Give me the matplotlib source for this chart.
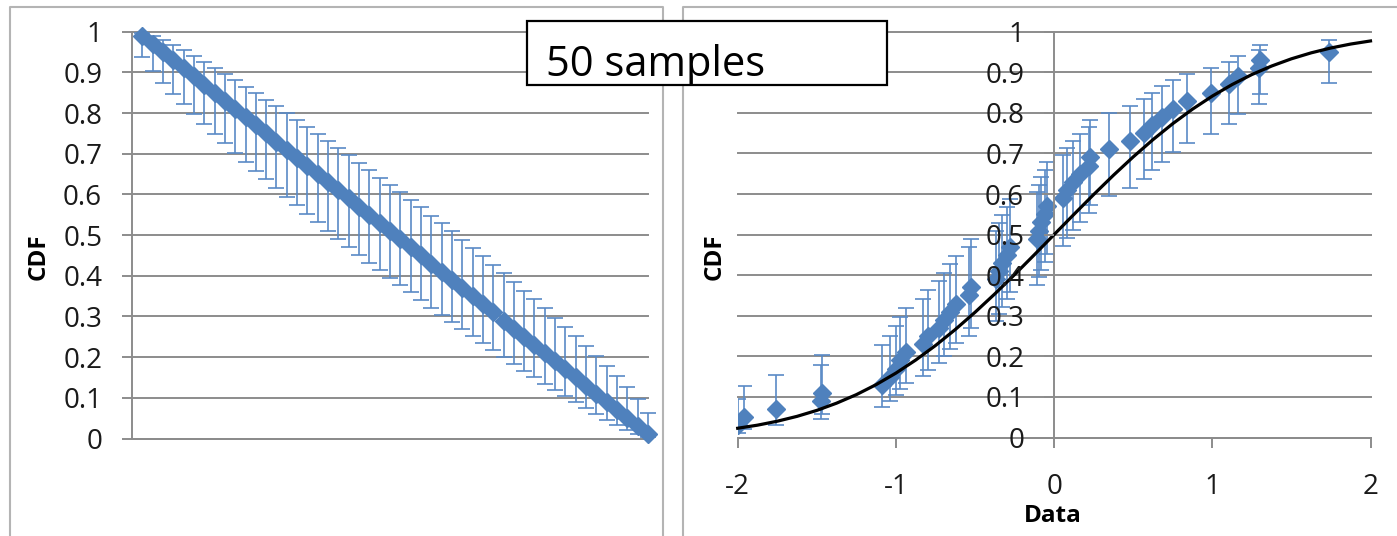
import matplotlib
matplotlib.use("Agg")
import matplotlib.pyplot as plt
from matplotlib.patches import Rectangle
from matplotlib.lines import Line2D

# ---------------- data ----------------
# Left panel: rank of each of the 50 samples and its CDF estimate with error-bar bounds
rank = list(range(1, 51))
cdf_desc = [0.99, 0.97, 0.95, 0.93, 0.91, 0.89, 0.87, 0.85, 0.83, 0.81,
            0.79, 0.77, 0.75, 0.73, 0.71, 0.69, 0.67, 0.65, 0.63, 0.61,
            0.59, 0.57, 0.55, 0.53, 0.51, 0.49, 0.47, 0.45, 0.43, 0.41,
            0.39, 0.37, 0.35, 0.33, 0.31, 0.29, 0.27, 0.25, 0.23, 0.21,
            0.19, 0.17, 0.15, 0.13, 0.11, 0.09, 0.07, 0.05, 0.03, 0.01]
lower_desc = [0.937, 0.904, 0.874, 0.847, 0.822, 0.797, 0.773, 0.749, 0.726, 0.703,
              0.680, 0.658, 0.637, 0.615, 0.594, 0.573, 0.552, 0.531, 0.511, 0.491,
              0.471, 0.452, 0.432, 0.413, 0.395, 0.377, 0.359, 0.341, 0.322, 0.304,
              0.287, 0.269, 0.251, 0.234, 0.217, 0.200, 0.183, 0.167, 0.151, 0.135,
              0.119, 0.104, 0.089, 0.074, 0.059, 0.045, 0.032, 0.020, 0.010, 0.003]
upper_desc = [0.997, 0.990, 0.980, 0.968, 0.955, 0.941, 0.926, 0.911, 0.896, 0.881,
              0.865, 0.849, 0.833, 0.817, 0.800, 0.783, 0.766, 0.749, 0.731, 0.713,
              0.696, 0.678, 0.659, 0.641, 0.623, 0.605, 0.587, 0.568, 0.548, 0.529,
              0.509, 0.489, 0.469, 0.448, 0.427, 0.406, 0.385, 0.363, 0.342, 0.320,
              0.297, 0.274, 0.251, 0.227, 0.203, 0.178, 0.153, 0.126, 0.096, 0.063]

# Right panel: sorted sample values (ascending) plotted against the CDF estimates
data_sorted = [-2.30, -2.00, -1.96, -1.755, -1.475, -1.465, -1.087, -1.04, -1.00, -0.975,
               -0.935, -0.83, -0.80, -0.73, -0.695, -0.66, -0.62, -0.535, -0.525, -0.37,
               -0.35, -0.33, -0.30, -0.28, -0.11, -0.095, -0.08, -0.06, -0.045, 0.055,
               0.08, 0.12, 0.165, 0.22, 0.23, 0.345, 0.477, 0.57, 0.62, 0.68,
               0.75, 0.84, 0.99, 1.105, 1.16, 1.293, 1.30, 1.736, 2.20, 2.50]
cdf_asc = cdf_desc[::-1]
lower_asc = lower_desc[::-1]
upper_asc = upper_desc[::-1]

# Reference normal CDF curve
normal_x = [-2.0, -1.875, -1.75, -1.625, -1.5, -1.375, -1.25, -1.125, -1.0,
            -0.875, -0.75, -0.625, -0.5, -0.375, -0.25, -0.125, 0.0,
            0.125, 0.25, 0.375, 0.5, 0.625, 0.75, 0.875, 1.0,
            1.125, 1.25, 1.375, 1.5, 1.625, 1.75, 1.875, 2.0]
normal_cdf = [0.0228, 0.0304, 0.0401, 0.0521, 0.0668, 0.0846, 0.1056, 0.1303, 0.1587,
              0.1908, 0.2266, 0.2660, 0.3085, 0.3538, 0.4013, 0.4503, 0.5,
              0.5497, 0.5987, 0.6462, 0.6915, 0.7340, 0.7734, 0.8092, 0.8413,
              0.8697, 0.8944, 0.9154, 0.9332, 0.9479, 0.9599, 0.9696, 0.9772]

y_ticks = [0.0, 0.1, 0.2, 0.3, 0.4, 0.5, 0.6, 0.7, 0.8, 0.9, 1.0]
y_tick_labels = ['0', '0.1', '0.2', '0.3', '0.4', '0.5', '0.6', '0.7', '0.8', '0.9', '1']
x_ticks = [-2, -1, 0, 1, 2]
x_tick_labels = ['-2', '-1', '0', '1', '2']

title_text = '50 samples'
y_label = 'CDF'
x_label = 'Data'

# ---------------- figure ----------------
W, H, DPI = 1397, 536, 100
plt.rcParams['font.family'] = ['Open Sans', 'DejaVu Sans']
fig = plt.figure(figsize=(W / DPI, H / DPI), dpi=DPI)
fig.patch.set_facecolor('white')


def fx(px):
    return px / W


def fy(py):
    return 1 - py / H


BLUE = '#4f81bd'
ERR = '#5a8ac6'
GRID = '#8c8c8c'
TICK_FS = 20
LABEL_FS = 17.5

axL = fig.add_axes([fx(132), fy(438.5), fx(648) - fx(132), (438.5 - 31.7) / H])
axR = fig.add_axes([fx(737.7), fy(437.5), fx(1370.5) - fx(737.7), (437.5 - 31.7) / H])


def style(ax):
    ax.set_facecolor('none')
    ax.set_ylim(0, 1)
    for s in ['top', 'right']:
        ax.spines[s].set_visible(False)
    for s in ['left', 'bottom']:
        ax.spines[s].set_color(GRID)
        ax.spines[s].set_linewidth(1.4)
    for t in y_ticks:
        ax.axhline(t, color=GRID, lw=1.4, zorder=0.5, clip_on=False)
    ax.set_yticks(y_ticks)
    ax.set_yticklabels(y_tick_labels)
    ax.tick_params(axis='y', direction='out', length=7.5, width=1.4, color=GRID,
                   pad=14, labelsize=TICK_FS, labelcolor='#1a1a1a')


# ----- left panel -----
style(axL)
axL.set_xlim(0, 50)
axL.set_xticks([])
ebL = axL.errorbar(rank, cdf_desc,
                   yerr=[[c - lo for c, lo in zip(cdf_desc, lower_desc)],
                         [up - c for c, up in zip(cdf_desc, upper_desc)]],
                   fmt='D', color=BLUE, ms=9.5, mec=BLUE, ecolor=ERR,
                   elinewidth=1.2, capsize=6, capthick=1.2, zorder=3)
for art in [ebL[0], *ebL[1], *ebL[2]]:
    art.set_clip_on(False)
axL.set_ylabel(y_label, fontsize=LABEL_FS, fontweight='bold', va='center')
axL.yaxis.set_label_coords(-0.180, 0.446)

# ----- right panel -----
style(axR)
axR.set_xlim(-2, 2)
axR.spines['left'].set_position(('data', 0))
axR.set_xticks(x_ticks)
axR.set_xticklabels(x_tick_labels)
axR.tick_params(axis='x', direction='out', length=7.5, width=1.4, color=GRID,
                pad=18, labelsize=TICK_FS, labelcolor='#1a1a1a')
axR.errorbar(data_sorted, cdf_asc,
             yerr=[[c - lo for c, lo in zip(cdf_asc, lower_asc)],
                   [up - c for c, up in zip(cdf_asc, upper_asc)]],
             fmt='D', color=BLUE, ms=9, mec=BLUE, ecolor=ERR,
             elinewidth=1.2, capsize=6, capthick=1.2, zorder=2)
axR.plot(normal_x, normal_cdf, color='black', lw=2.3, zorder=3, clip_on=False,
         solid_joinstyle='round')
axR.yaxis.set_zorder(4)
axR.set_ylabel(y_label, fontsize=LABEL_FS, fontweight='bold', va='center')
axR.yaxis.set_label_coords(-0.036, 0.446)
axR.set_xlabel(x_label, fontsize=LABEL_FS, fontweight='bold', va='center')
axR.xaxis.set_label_coords(0.4987, -0.194)

# ----- chart borders -----
border_kw = dict(color='#b4b4b4', lw=1.5, transform=fig.transFigure, zorder=0)
fig.add_artist(Line2D([fx(10), fx(10), fx(663), fx(663)], [0, fy(7), fy(7), 0], **border_kw))
fig.add_artist(Line2D([fx(683), fx(683), 1], [0, fy(7), fy(7)], **border_kw))

# ----- title box -----
box = Rectangle((fx(527), fy(85)), fx(887) - fx(527), (85 - 21) / H,
                transform=fig.transFigure, facecolor='white', edgecolor='black',
                lw=1.6, zorder=10)
fig.add_artist(box)
fig.text(fx(546), fy(76), title_text, fontsize=30, ha='left', va='baseline',
         zorder=11, color='black')

fig.savefig('out.png', dpi=DPI)
